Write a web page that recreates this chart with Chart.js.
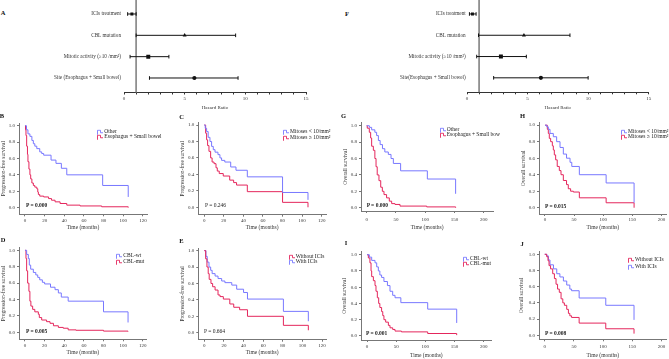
<!DOCTYPE html>
<html><head><meta charset="utf-8">
<script src="https://cdn.jsdelivr.net/npm/chart.js@4.4.1/dist/chart.umd.min.js"></script>
<style>
html,body{margin:0;padding:0;background:#fff;}
body{width:669px;height:359px;position:relative;overflow:hidden;font-family:"Liberation Serif","Times New Roman",serif;}
canvas{position:absolute;}
.t{position:absolute;white-space:nowrap;color:#222;line-height:1;transform:translateY(-50%);}
.L{position:absolute;font-weight:bold;font-size:6.5px;line-height:1;color:#111;transform:translate(-50%,-50%);}
.lg{position:absolute;white-space:nowrap;font-size:5.5px;line-height:1;color:#222;transform:translateY(-50%);}
.lg svg{position:absolute;left:-7px;top:0;}
</style></head><body>
<script>
// ---------------- DATA ----------------
// Forest plots (hazard ratios)
const forestLabelsA = ["ICIs treatment","CBL mutation","Mitotic activity (\u226510 /mm\u00b2)","Site (Esophagus + Small bowel)"];
const hrA = [0.65, 5.0, 2.0, 5.8];
const loA = [0.3, 1.0, 0.5, 2.1];
const hiA = [1.0, 9.2, 3.7, 9.4];
const forestLabelsF = ["ICIs treatment","CBL mutation","Mitotic activity (\u226510 /mm\u00b2)","Site(Esophagus + Small bowel)"];
const hrF = [0.45, 4.7, 2.8, 6.1];
const loF = [0.2, 0.95, 0.8, 2.2];
const hiF = [0.75, 8.5, 4.9, 10.0];
const refHR = 1;
const forestTicks = [0,1,2,3,4,5,6,7,8,9,10,11,12,13,14,15];

// Kaplan-Meier tick labels
const survTicks = [0,0.2,0.4,0.6,0.8,1.0];
const pfsTimeTicks = [0,20,40,60,80,100,120];
const osTimeTicks = [0,50,100,150,200];

// PFS by site (B)
const B_other = [[0,1],[1.5,0.95],[3,0.9],[5,0.87],[7,0.82],[8.5,0.78],[10,0.75],[12,0.72],[15,0.68],[17,0.66],[19,0.64],[26.5,0.58],[31.5,0.54],[37,0.48],[42.5,0.40],[79,0.27],[105,0.13]];
const B_eso = [[0,1],[0.5,0.95],[1,0.88],[1.7,0.75],[2.5,0.65],[3,0.56],[4,0.47],[5,0.4],[5.8,0.35],[7,0.3],[8.5,0.27],[10,0.25],[12,0.23],[13,0.19],[13.6,0.16],[15,0.14],[19,0.13],[24,0.11],[27,0.09],[30.6,0.07],[35.7,0.05],[42.5,0.03],[56,0.02],[78,0.01],[105,0.0]];
// PFS by mitoses (C)
const C_low = [[0,1],[1,0.96],[2.4,0.92],[4,0.85],[5.8,0.8],[7.5,0.74],[9.2,0.7],[11,0.67],[14,0.64],[16,0.6],[17.7,0.57],[21,0.55],[27,0.49],[32.4,0.45],[44,0.37],[80,0.18],[106,0.09]];
const C_high = [[0,1],[1.4,0.9],[2.4,0.82],[3.4,0.75],[4.8,0.68],[6.5,0.6],[8,0.55],[10,0.53],[12,0.48],[13.3,0.44],[15.3,0.41],[19.4,0.38],[26,0.33],[30,0.3],[33,0.27],[44,0.19],[80,0.06],[106,0.0]];
// PFS by CBL (D)
const D_wt = [[0,1],[1.7,0.95],[3.4,0.9],[4.4,0.82],[5.8,0.77],[8.5,0.73],[11,0.7],[13,0.67],[15,0.64],[17.7,0.61],[20,0.59],[26,0.55],[30.6,0.52],[34,0.48],[37,0.43],[44,0.38],[80,0.25],[105,0.12]];
const D_mut = [[0,1],[1,0.9],[1.7,0.75],[2.7,0.6],[4,0.5],[5,0.38],[6,0.32],[7.8,0.28],[10,0.25],[13.6,0.22],[14.6,0.18],[17,0.15],[22,0.13],[25.5,0.11],[29,0.08],[34,0.06],[39,0.05],[44,0.03],[52,0.025],[80,0.015],[105,0.01]];
// PFS by ICIs (E)
const E_without = [[0,1],[1.4,0.9],[2.7,0.8],[4,0.72],[5,0.65],[6.8,0.6],[8.5,0.56],[11,0.52],[14,0.46],[16,0.44],[19.4,0.41],[26,0.35],[30,0.31],[36,0.28],[44,0.2],[80.6,0.09],[106,0.03]];
const E_with = [[0,1],[1.7,0.93],[3,0.86],[4.8,0.8],[6.5,0.76],[8,0.72],[11,0.69],[14,0.66],[17.7,0.63],[21,0.61],[28,0.58],[33,0.53],[40,0.49],[44,0.41],[80.6,0.26],[106,0.14]];
// OS by site (G)
const G_other = [[0,1],[4.6,0.98],[8.5,0.95],[14,0.92],[17,0.88],[20,0.82],[23,0.77],[27,0.72],[31,0.68],[37,0.65],[41.6,0.6],[45.6,0.54],[58,0.45],[103.7,0.35],[152,0.17]];
const G_eso = [[0,1],[1,0.97],[4.5,0.92],[6.8,0.85],[8.5,0.75],[11.4,0.7],[14,0.6],[16,0.5],[18,0.4],[21,0.33],[24,0.25],[26.8,0.2],[29.6,0.16],[34,0.12],[38.7,0.08],[42.7,0.05],[48.4,0.04],[57,0.02],[102.6,0.01],[152,0.0]];
// OS by mitoses (H)
const H_low = [[0,1],[3,0.98],[5.7,0.95],[8.6,0.9],[14.3,0.86],[20,0.8],[25.8,0.73],[31.5,0.65],[37,0.6],[43,0.55],[46,0.5],[59,0.4],[105,0.3],[153,0.06]];
const H_high = [[0,1],[4,0.95],[5.7,0.9],[7.4,0.84],[9.7,0.8],[12.6,0.75],[14.3,0.7],[16,0.64],[18.3,0.58],[21,0.5],[24.6,0.45],[27.5,0.4],[31.5,0.33],[37,0.28],[40,0.23],[44,0.2],[48.7,0.19],[59,0.12],[105,0.06],[153,0.0]];
// OS by CBL (I)
const I_wt = [[0,1],[4,0.97],[8,0.93],[13.7,0.9],[16.6,0.85],[19.4,0.8],[22,0.75],[25,0.72],[29,0.67],[35,0.62],[39.4,0.55],[44,0.5],[48,0.47],[58,0.41],[104,0.33],[153.7,0.16]];
const I_mut = [[0,1],[2.3,0.96],[5,0.9],[6.9,0.8],[8,0.73],[10.9,0.68],[13.7,0.62],[15.4,0.55],[17.7,0.47],[20,0.4],[22,0.35],[25,0.3],[27,0.25],[29,0.2],[32,0.17],[36.6,0.13],[39.4,0.1],[44,0.08],[48,0.06],[59,0.05],[104,0.03],[153.7,0.01]];
// OS by ICIs (J)
const J_without = [[0,1],[3.4,0.97],[5.7,0.92],[7.4,0.86],[10,0.82],[13.7,0.76],[16.6,0.7],[19.4,0.63],[22,0.57],[25,0.53],[28,0.45],[31,0.4],[33.7,0.37],[37.7,0.32],[40.6,0.27],[43,0.24],[46,0.22],[59,0.15],[104.6,0.08],[153,0.02]];
const J_with = [[0,1],[3.4,0.98],[6.3,0.93],[9,0.87],[15,0.82],[20.6,0.76],[26,0.72],[32,0.67],[37.7,0.62],[43,0.57],[46,0.55],[59,0.46],[104.6,0.37],[153,0.19]];

// ---------------- RENDER ----------------
const BLUE = 'rgb(120,120,255)';
const RED = 'rgb(228,38,92)';
const FONT = '"Liberation Serif","Times New Roman",serif';

function addCanvas(left, top, w, h){
  const c = document.createElement('canvas');
  c.width = w; c.height = h;
  c.style.left = left + 'px'; c.style.top = top + 'px';
  c.style.width = w + 'px'; c.style.height = h + 'px';
  document.body.appendChild(c);
  return c;
}

function km(p){
  const PADT = 8, PADR = 8;
  const cl = Math.round(p.titleX - 4), ct = Math.round(p.T - PADT), cb = Math.round(p.xTitleY + 4);
  const cw = Math.round(p.R + PADR - cl), ch = cb - ct;
  const c = addCanvas(cl, ct, cw, ch);
  const yW = p.L - cl, xH = cb - p.B;
  new Chart(c, {
    type: 'line',
    data: { datasets: p.series.map(s => ({
      data: s.data.map(([x,y]) => ({x, y})),
      borderColor: s.color, borderWidth: 1, stepped: 'before', pointRadius: 0, fill: false
    })) },
    options: {
      responsive: false, animation: false, events: [],
      layout: { padding: { top: p.T - ct, right: cl + cw - p.R, left: 0, bottom: 0 } },
      plugins: { legend: { display: false }, tooltip: { enabled: false } },
      scales: {
        x: {
          type: 'linear', min: p.xmin, max: p.xmax,
          afterFit: s => { s.height = xH; },
          afterBuildTicks: s => { s.ticks = p.xticks.map(v => ({value: v})); },
          ticks: { font: { family: FONT, size: 5 }, color: '#333', padding: p.xpad, autoSkip: false, maxRotation: 0 },
          grid: { display: true, drawOnChartArea: false, drawTicks: true, tickLength: 2, color: '#777' },
          border: { display: true, color: '#777', width: 1 },
          title: { display: true, text: 'Time (months)', font: { family: FONT, size: 5.5 }, color: '#333',
                   padding: { top: 0, bottom: cb - p.xTitleY - 3.3 } }
        },
        y: {
          type: 'linear', min: p.ymin, max: p.ymax,
          afterFit: s => { s.width = yW; },
          afterBuildTicks: s => { s.ticks = survTicks.map(v => ({value: v})); },
          ticks: { font: { family: FONT, size: 5 }, color: '#333', padding: 2, autoSkip: false,
                   callback: v => Number(v).toFixed(1) },
          grid: { display: true, drawOnChartArea: false, drawTicks: true, tickLength: 2, color: '#777' },
          border: { display: true, color: '#777', width: 1 },
          title: { display: true, text: p.ytitle, font: { family: FONT, size: 5.5 }, color: '#333',
                   padding: { top: p.titleX - cl - 3.3, bottom: 0 } }
        }
      }
    }
  });
}

const FY_MIN = -0.656, FY_MAX = 3.68;
function forest(p){
  const PADT = 8;
  const cl = p.cl, ct = -PADT, cb = 111;
  const cw = Math.round(p.R + 8 - cl), ch = cb - ct;
  const c = addCanvas(cl, ct, cw, ch);
  const yW = p.L - cl, xH = cb - p.B;
  const ds = [];
  ds.push({ type: 'line', data: [{x: refHR, y: FY_MIN}, {x: refHR, y: FY_MAX}], borderColor: '#8a8a8a', borderWidth: 1, pointRadius: 0, order: 3 });
  p.labels.forEach((l, i) => ds.push({
    type: 'line', data: [{x: p.lo[i], y: i}, {x: p.hi[i], y: i}], borderColor: '#111', borderWidth: 1,
    pointStyle: 'line', pointRotation: 90, pointRadius: 1.8, pointBorderColor: '#111', pointBorderWidth: 1, order: 2
  }));
  ds.push({ type: 'scatter', data: p.hr.map((v, i) => ({x: v, y: i})),
    pointStyle: ['rect','triangle','rect','circle'], pointRadius: [2.1, 2.3, 2.8, 2.1],
    pointBackgroundColor: '#111', pointBorderColor: '#111', pointBorderWidth: 0, order: 1 });
  new Chart(c, {
    type: 'scatter',
    data: { datasets: ds },
    options: {
      responsive: false, animation: false, events: [],
      layout: { padding: { top: PADT, right: cl + cw - p.R, left: 0, bottom: 0 } },
      plugins: { legend: { display: false }, tooltip: { enabled: false } },
      scales: {
        x: {
          type: 'linear', min: 0, max: 15,
          afterFit: s => { s.height = xH; },
          afterBuildTicks: s => { s.ticks = forestTicks.map(v => ({value: v})); },
          ticks: { font: { family: FONT, size: 5 }, color: '#333', padding: 1, autoSkip: false, maxRotation: 0,
                   callback: v => (v % 5 === 0 ? String(v) : '') },
          grid: { display: true, drawOnChartArea: false, drawTicks: true, tickLength: 2, color: '#333' },
          border: { display: true, color: '#333', width: 1 },
          title: { display: true, text: 'Hazard Ratio', font: { family: FONT, size: 5 }, color: '#333',
                   padding: { top: 0, bottom: cb - 107.3 - 3 } }
        },
        y: {
          type: 'linear', reverse: true, min: FY_MIN, max: FY_MAX,
          afterFit: s => { s.width = yW; },
          afterBuildTicks: s => { s.ticks = [0,1,2,3].map(v => ({value: v})); },
          ticks: { font: { family: FONT, size: 5.2 }, color: '#333', padding: p.ypad, autoSkip: false,
                   callback: v => p.labels[v] },
          grid: { display: false, drawTicks: false, tickLength: 0 },
          border: { display: false }
        }
      }
    }
  });
}

forest({ cl: 20, L: 124, R: 306, B: 92.5, labels: forestLabelsA, hr: hrA, lo: loA, hi: hiA, ypad: 3 });
forest({ cl: 362, L: 467, R: 648.7, B: 92.3, labels: forestLabelsF, hr: hrF, lo: loF, hi: hiF, ypad: 1.3 });

const PFS = 'Progression-free survival', OS = 'Overall survival';
km({ L: 19, T: 123, R: 147, B: 214.3, xmin: -6.1, xmax: 124.1, ymin: -0.082, ymax: 1.033, titleX: 3.5, xTitleY: 227.7, xticks: pfsTimeTicks, xpad: 1, ytitle: PFS,
     series: [{data: B_other, color: BLUE}, {data: B_eso, color: RED}] });
km({ L: 198.3, T: 122.7, R: 326, B: 214.7, xmin: -6.1, xmax: 124.4, ymin: -0.09, ymax: 1.028, titleX: 183, xTitleY: 227.7, xticks: pfsTimeTicks, xpad: 1, ytitle: PFS,
     series: [{data: C_low, color: BLUE}, {data: C_high, color: RED}] });
km({ L: 361, T: 122.7, R: 493.3, B: 211, xmin: -9.7, xmax: 216.4, ymin: -0.04, ymax: 1.037, titleX: 345.3, xTitleY: 227.7, xticks: osTimeTicks, xpad: 4, ytitle: OS,
     series: [{data: G_other, color: BLUE}, {data: G_eso, color: RED}] });
km({ L: 539, T: 122.7, R: 666.7, B: 214, xmin: -10.3, xmax: 209, ymin: -0.076, ymax: 1.03, titleX: 524, xTitleY: 227.7, xticks: osTimeTicks, xpad: 1, ytitle: OS,
     series: [{data: H_low, color: BLUE}, {data: H_high, color: RED}] });
km({ L: 19, T: 247.7, R: 146.7, B: 339.3, xmin: -6.1, xmax: 124, ymin: -0.085, ymax: 1.032, titleX: 3.5, xTitleY: 352.7, xticks: pfsTimeTicks, xpad: 1, ytitle: PFS,
     series: [{data: D_wt, color: BLUE}, {data: D_mut, color: RED}] });
km({ L: 198.3, T: 248, R: 326, B: 339.7, xmin: -6.1, xmax: 124, ymin: -0.085, ymax: 1.032, titleX: 183, xTitleY: 352.7, xticks: pfsTimeTicks, xpad: 1, ytitle: PFS,
     series: [{data: E_without, color: RED}, {data: E_with, color: BLUE}] });
km({ L: 361, T: 251.7, R: 491.7, B: 340, xmin: -10.3, xmax: 213.7, ymin: -0.05, ymax: 1.037, titleX: 345, xTitleY: 355.7, xticks: osTimeTicks, xpad: 2, ytitle: OS,
     series: [{data: I_wt, color: BLUE}, {data: I_mut, color: RED}] });
km({ L: 539, T: 251.7, R: 666.7, B: 339.3, xmin: -9.8, xmax: 209, ymin: -0.05, ymax: 1.032, titleX: 522, xTitleY: 355.7, xticks: osTimeTicks, xpad: 2, ytitle: OS,
     series: [{data: J_without, color: RED}, {data: J_with, color: BLUE}] });

// ---------------- TEXT OVERLAYS ----------------
function el(cls, html, x, y, extra){
  const d = document.createElement('div');
  d.className = cls; d.innerHTML = html;
  d.style.left = x + 'px'; d.style.top = y + 'px';
  if (extra) Object.assign(d.style, extra);
  document.body.appendChild(d);
  return d;
}
// panel letters
[['A',3,12.5],['F',347,14],['B',2,115.5],['C',181.5,116.5],['G',343.5,115.5],['H',522.5,115.5],
 ['D',3,240],['E',181.5,240.5],['I',346,242.5],['J',522,243.5]].forEach(([s,x,y]) => el('L', s, x, y));

// p-values
[['P = 0.000',26,205.7,true],['P = 0.246',205,205.7,false],['P = 0.000',366.7,206,true],['P = 0.015',545,206.7,true],
 ['P = 0.005',26,332.3,true],['P = 0.664',204,331.7,false],['P = 0.001',366,334,true],['P = 0.008',545,334,true]]
 .forEach(([s,x,y,b]) => el('t', s, x, y, {fontSize:'5.5px', fontWeight: b ? 'bold' : 'normal'}));

// legends
function icon(color){
  return '<svg width="6" height="6" viewBox="0 0 6 6"><path d="M0.5 5.5 V1 H3.5 V3.5 H6" fill="none" stroke="' + color + '" stroke-width="0.9"/></svg>';
}
function legend(x, rows, clipRight){
  rows.forEach(([txt, color, y]) => {
    const d = el('lg', icon(color) + txt, x, y);
    if (clipRight) { d.style.width = (clipRight - x) + 'px'; d.style.overflow = 'visible'; d.style.clipPath = 'inset(-2px 0 -2px -8px)'; }
  });
}
legend(104.3, [['Other', BLUE, 131.7], ['Esophagus + Small bowel', RED, 136.5]]);
legend(290, [['Mitoses &lt; 10/mm\u00b2', BLUE, 131.7], ['Mitoses \u2265 10/mm\u00b2', RED, 137.7]]);
legend(446.7, [['Other', BLUE, 130], ['Esophagus + Small bowel', RED, 135]], 500);
legend(628, [['Mitoses &lt; 10/mm\u00b2', BLUE, 131.7], ['Mitoses \u2265 10/mm\u00b2', RED, 136.7]]);
legend(123.3, [['CBL-wt', BLUE, 256], ['CBL-mut', RED, 261.7]]);
legend(295.7, [['Without ICIs', RED, 256.7], ['With ICIs', BLUE, 261.7]]);
legend(470, [['CBL-wt', BLUE, 259], ['CBL-mut', RED, 264.3]]);
legend(635, [['Without ICIs', RED, 260], ['With ICIs', BLUE, 266.7]]);
</script>
</body></html>
